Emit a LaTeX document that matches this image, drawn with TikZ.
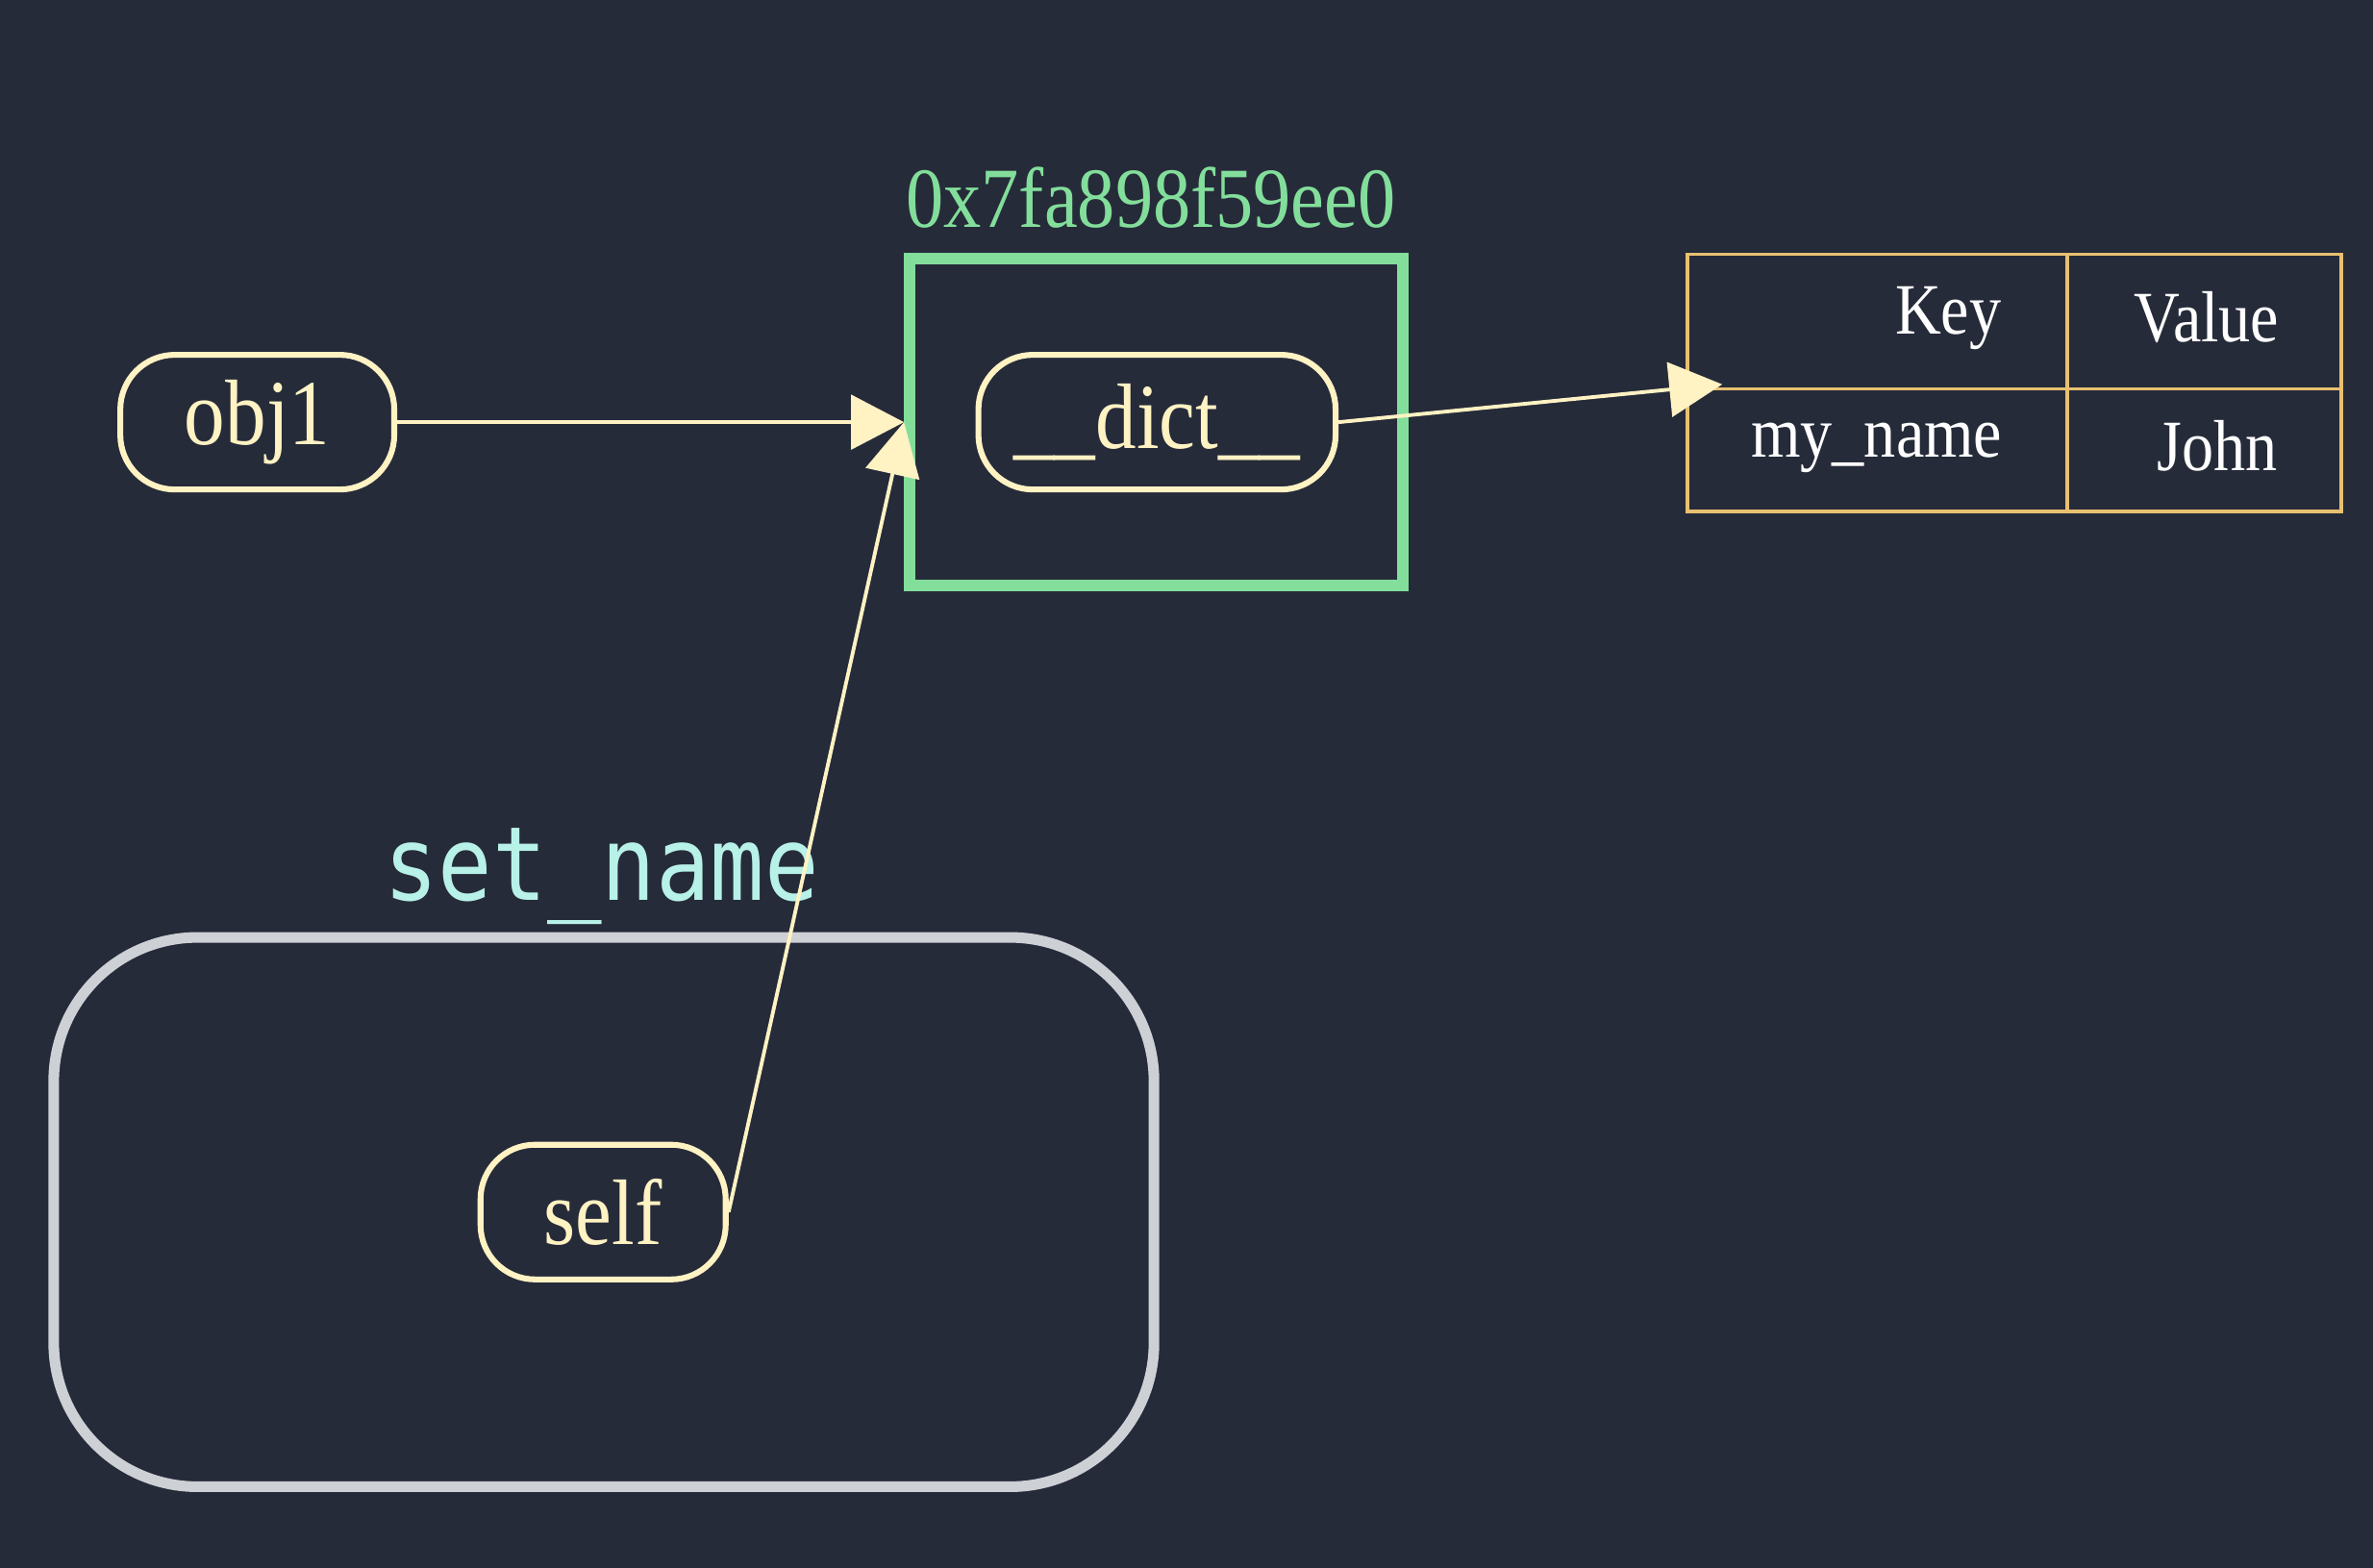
\documentclass[tikz,border=0pt]{standalone}
\usepackage{fontspec}
\setmainfont{Liberation Serif}[FakeStretch=0.88]
\newfontfamily\monofont{DejaVu Sans Mono}[FakeStretch=0.88]
\usetikzlibrary{arrows.meta}
\definecolor{bg}{RGB}{38,43,58}
\definecolor{cream}{RGB}{255,242,195}
\definecolor{addrgreen}{RGB}{130,222,154}
\definecolor{gold}{RGB}{232,192,112}
\definecolor{clgray}{RGB}{205,208,212}
\definecolor{cyanlbl}{RGB}{183,241,232}
\tikzset{
  var/.style={draw=cream, line width=1.1pt, rounded corners=0.36cm, text=cream,
    font=\fontsize{17.5}{20}\selectfont, minimum height=0.89cm, inner sep=0pt},
  ptr/.style={draw=cream, line width=0.7pt, -{Triangle[length=0.35cm,width=0.36cm]}},
  cell/.style={text=white, font=\fontsize{13.6}{16}\selectfont, inner sep=0pt},
}
\begin{document}
\begin{tikzpicture}
\fill[bg] (0,0) rectangle (15.68,10.36);
\useasboundingbox (0,0) rectangle (15.68,10.36);

% cluster set_name
\node[draw=clgray, line width=2pt, rounded corners=0.95cm, minimum width=7.27cm,
  minimum height=3.63cm, inner sep=0pt] (cluster) at (3.99,2.35) {};
\node[anchor=base, text=cyanlbl, font=\monofont\fontsize{19.3}{22}\selectfont, inner sep=0pt]
  (clusterlbl) at (3.975,4.41) {set\_name};

% object box
\node[draw=addrgreen, line width=2.1pt, minimum width=3.26cm, minimum height=2.16cm,
  inner sep=0pt] (box) at (7.64,7.57) {};
\node[anchor=base, text=addrgreen, font=\fontsize{16.1}{19}\selectfont, inner sep=0pt]
  (addr) at (7.605,8.86) {0x7fa898f59ee0};

% variable nodes
\node[var, minimum width=1.81cm] (obj1) at (1.70,7.57) {obj1};
\node[var, minimum width=2.36cm] (dict) at (7.645,7.57) {\_\_dict\_\_};
\node[var, minimum width=1.62cm] (self) at (3.985,2.35) {self};

% table
\node[draw=gold, line width=0.6pt, minimum width=4.32cm, minimum height=1.70cm,
  inner sep=0pt] (tbl) at (13.31,7.83) {};
\coordinate (rowL) at (11.15,7.79);
\coordinate (rowR) at (15.47,7.79);
\coordinate (colT) at (13.66,8.68);
\coordinate (colB) at (13.66,6.98);
\draw[gold, line width=0.6pt] (rowL) -- (rowR);
\draw[gold, line width=0.6pt] (colT) -- (colB);
\node[cell, anchor=base east] (key) at (13.23,8.15) {Key};
\node[cell, anchor=base] (value) at (14.58,8.10) {Value};
\node[cell, anchor=base] (myname) at (12.40,7.34) {my\_name};
\node[cell, anchor=base] (john) at (14.65,7.25) {John};

% connectors
\coordinate (tbltip) at (11.38,7.82);
\draw[ptr] (obj1.east) -- (box.west);
\draw[ptr] (self.east) -- (box.west);
\draw[ptr] (dict.east) -- (tbltip);
\end{tikzpicture}
\end{document}
